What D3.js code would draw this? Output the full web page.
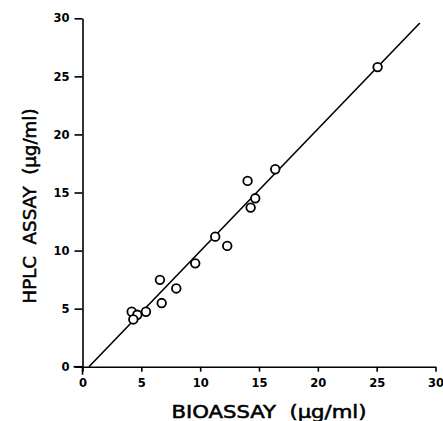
<!DOCTYPE html>
<html><head><meta charset="utf-8">
<script src="https://cdn.jsdelivr.net/npm/d3@7"></script>
<style>body{margin:0;background:#fff}</style>
</head><body>
<svg id="c" width="443" height="421"></svg>
<script>
const bioassay = [25.08,16.38,14.03,14.68,14.29,11.28,12.3,9.58,6.58,7.97,6.73,5.39,4.18,4.66,4.32];
const hplc     = [25.8,17.0,16.0,14.5,13.7,11.2,10.4,8.9,7.48,6.74,5.48,4.73,4.73,4.47,4.07];
const fitLineX = [0.55, 28.67];
const fitLineY = [0, 29.6];
const xTicks = [0,5,10,15,20,25,30];
const yTicks = [0,5,10,15,20,25,30];
const xTitle = "BIOASSAY  (µg/ml)";
const yTitle = "HPLC  ASSAY  (µg/ml)";

const svg = d3.select("#c");
const x = d3.scaleLinear().domain([0,30]).range([82.5,435.5]);
const y = d3.scaleLinear().domain([0,30]).range([366.7,18.3]);

const xAxis = svg.append("g").attr("transform","translate(0,"+y(0)+")")
  .call(d3.axisBottom(x).tickValues(xTicks).tickSize(5).tickPadding(6).tickSizeOuter(0));
const yAxis = svg.append("g").attr("transform","translate("+x(0)+",0)")
  .call(d3.axisLeft(y).tickValues(yTicks).tickSize(8).tickPadding(5).tickSizeOuter(0));
[xAxis,yAxis].forEach(g=>{
  g.selectAll("path.domain").attr("stroke","#000").attr("stroke-width",1.6);
  g.selectAll(".tick line").attr("stroke","#000").attr("stroke-width",1.6);
  g.selectAll(".tick text").attr("fill","#000").style("font-family","DejaVu Sans").style("font-weight","bold").style("font-size","11.5px");
});
xAxis.selectAll(".tick text").attr("dy","0.78em");
// small overshoot at origin
svg.append("line").attr("x1",x(0)-9).attr("x2",x(0)).attr("y1",y(0)).attr("y2",y(0)).attr("stroke","#000").attr("stroke-width",1.6);
svg.append("line").attr("x1",x(0)).attr("x2",x(0)).attr("y1",y(0)).attr("y2",y(0)+8).attr("stroke","#000").attr("stroke-width",1.6);

svg.append("line")
  .attr("x1",x(fitLineX[0])).attr("y1",y(fitLineY[0]))
  .attr("x2",x(fitLineX[1])).attr("y2",y(fitLineY[1]))
  .attr("stroke","#000").attr("stroke-width",1.6);

svg.selectAll("circle.pt").data(bioassay.map((b,i)=>[b,hplc[i]])).enter()
  .append("circle").attr("class","pt")
  .attr("cx",d=>x(d[0])).attr("cy",d=>y(d[1])).attr("r",4.3)
  .attr("fill","#fff").attr("stroke","#000").attr("stroke-width",1.8);

svg.append("text").attr("x",269).attr("y",418).attr("text-anchor","middle")
  .style("font-family","DejaVu Sans Condensed").style("font-size","18px").style("white-space","pre")
  .attr("stroke","#000").attr("stroke-width",0.5)
  .attr("textLength",195).attr("lengthAdjust","spacingAndGlyphs")
  .attr("fill","#000").text(xTitle);
svg.append("text").attr("transform","translate(36,206) rotate(-90)").attr("text-anchor","middle")
  .style("font-family","DejaVu Sans Condensed").style("font-size","18px").style("white-space","pre")
  .attr("stroke","#000").attr("stroke-width",0.5)
  .attr("textLength",195).attr("lengthAdjust","spacingAndGlyphs")
  .attr("fill","#000").text(yTitle);
</script>
</body></html>
